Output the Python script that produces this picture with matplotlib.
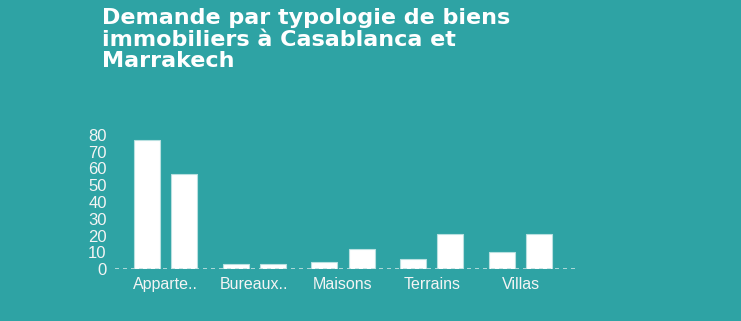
import matplotlib
matplotlib.use("Agg")
import matplotlib.pyplot as plt
import numpy as np

categories = ["Apparte..", "Bureaux..", "Maisons", "Terrains", "Villas"]
casablanca = [77, 3, 4, 6, 10]
marrakech = [57, 3, 12, 21, 21]
yticks = [0, 10, 20, 30, 40, 50, 60, 70, 80]
title = "Demande par typologie de biens\nimmobiliers à Casablanca et\nMarrakech"

bg = "#2EA3A4"
fig = plt.figure(figsize=(7.41, 3.21), dpi=100, facecolor=bg)
ax = fig.add_axes([115/741, 1-269/321, 460/741, (269-135)/321])
ax.set_facecolor(bg)

x = np.arange(len(categories))
w = 0.293
off = 0.211
ax.bar(x - off, casablanca, width=w, color="white", edgecolor="#b8e0e0", linewidth=0.8, zorder=3)
ax.bar(x + off, marrakech, width=w, color="white", edgecolor="#b8e0e0", linewidth=0.8, zorder=3)

ax.set_xlim(-0.569, 4.614)
ax.set_ylim(0, 80)
ax.set_yticks(yticks)
ax.set_yticklabels([str(v) for v in yticks], fontsize=12, color="#f4f4f4", family="Liberation Sans")
ax.set_xticks(x)
ax.set_xticklabels(categories, fontsize=11.5, color="#f4f4f4", family="Liberation Sans")
ax.tick_params(axis="both", length=0)
ax.tick_params(axis="y", pad=6)
ax.tick_params(axis="x", pad=6)
for s in ax.spines.values():
    s.set_visible(False)
ax.axhline(0, color="#c4e2e2", linestyle=(0, (2.4, 2.4)), linewidth=1.2, zorder=4)

fig.text(102/741, 1-8/321, title, fontsize=16, fontweight="bold", color="white",
         family="DejaVu Sans", va="top", ha="left", linespacing=1.1)

fig.savefig("out.png", dpi=100, facecolor=bg)
